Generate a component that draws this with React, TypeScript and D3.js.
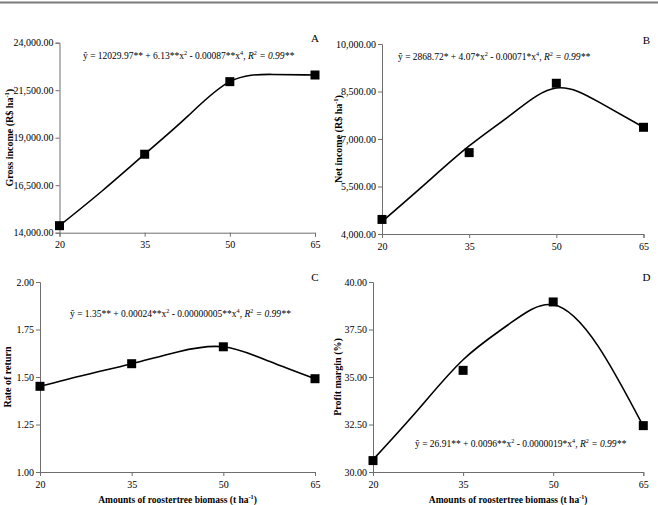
import React, { useEffect, useRef } from "react";
import * as d3 from "d3";

// observed points
const biomass = [20, 35, 50, 65];
const grossIncome = [14370, 18130, 21950, 22300];
const netIncome = [4460, 6570, 8760, 7370];
const rateOfReturn = [1.451, 1.57, 1.659, 1.491];
const profitMargin = [30.6, 35.35, 38.95, 32.44];

// fitted curves
const trendBiomass = [20, 27.5, 35, 42.5, 50, 57.5, 65];
const grossTrend = [14370, 16195, 18130, 20105, 21950, 22330, 22300];
const netTrend = [4390, 5590, 6780, 7810, 8611, 8147, 7370];
const rateTrend = [1.451, 1.512, 1.57, 1.632, 1.659, 1.583, 1.491];
const marginTrend = [30.65, 33.28, 35.91, 37.75, 38.8, 36.61, 32.41];

const xTicks = [20, 35, 50, 65];
const grossTicks = [14000, 16500, 19000, 21500, 24000];
const netTicks = [4000, 5500, 7000, 8500, 10000];
const rateTicks = [1, 1.25, 1.5, 1.75, 2];
const marginTicks = [30, 32.5, 35, 37.5, 40];

type Seg = { t: string; sup?: boolean; it?: boolean };

const eqA: Seg[] = [
  { t: "ŷ = 12029.97** + 6.13**x" }, { t: "2", sup: true }, { t: " - 0.00087**x" }, { t: "4", sup: true },
  { t: ", " }, { t: "R", it: true }, { t: "2", sup: true }, { t: " = 0.99**", it: true },
];
const eqB: Seg[] = [
  { t: "ŷ = 2868.72* + 4.07*x" }, { t: "2", sup: true }, { t: " - 0.00071*x" }, { t: "4", sup: true },
  { t: ", " }, { t: "R", it: true }, { t: "2", sup: true }, { t: " = 0.99**", it: true },
];
const eqC: Seg[] = [
  { t: "ŷ = 1.35** + 0.00024**x" }, { t: "2", sup: true }, { t: " - 0.00000005**x" }, { t: "4", sup: true },
  { t: ", " }, { t: "R", it: true }, { t: "2", sup: true }, { t: " = 0.99**", it: true },
];
const eqD: Seg[] = [
  { t: "ŷ = 26.91** + 0.0096**x" }, { t: "2", sup: true }, { t: " - 0.0000019*x" }, { t: "4", sup: true },
  { t: ", " }, { t: "R", it: true }, { t: "2", sup: true }, { t: " = 0.99**", it: true },
];

const haTitle = (s: string): Seg[] => [{ t: s + " (R$ ha" }, { t: "-1", sup: true }, { t: ")" }];
const xTitle: Seg[] = [{ t: "Amounts of roostertree biomass (t ha" }, { t: "-1", sup: true }, { t: ")" }];

const panels = [
  { label: "A", xr: [59.5, 315], yr: [232.7, 42.7], ticks: grossTicks, pts: grossIncome, trend: grossTrend,
    yTitle: haTitle("Gross income"), tx: 13, eq: eqA, ex: 83, ey: 58.5, lx: 315, ly: 42, xt: false },
  { label: "B", xr: [382, 643.5], yr: [234, 44], ticks: netTicks, pts: netIncome, trend: netTrend,
    yTitle: haTitle("Net income"), tx: 341.5, eq: eqB, ex: 398, ey: 60, lx: 646.5, ly: 44, xt: false },
  { label: "C", xr: [40, 315], yr: [472, 282], ticks: rateTicks, pts: rateOfReturn, trend: rateTrend,
    yTitle: [{ t: "Rate of return" }], tx: 10.5, eq: eqC, ex: 70, ey: 316.5, lx: 315, ly: 281, xt: true },
  { label: "D", xr: [373, 643.3], yr: [472, 282], ticks: marginTicks, pts: profitMargin, trend: marginTrend,
    yTitle: [{ t: "Profit margin (%)" }], tx: 341, eq: eqD, ex: 415, ey: 447, lx: 646.5, ly: 281, xt: true },
];

const FONT = "'Liberation Serif', 'Times New Roman', serif";

function addSegs(text: d3.Selection<SVGTextElement, unknown, null, undefined>, segs: Seg[], size: number) {
  let shifted = false;
  segs.forEach((s) => {
    const ts = text.append("tspan").text(s.t);
    if (s.it) ts.attr("font-style", "italic");
    if (s.sup) {
      ts.attr("font-size", size * 0.65).attr("dy", -size * 0.38);
      shifted = true;
    } else if (shifted) {
      ts.attr("dy", size * 0.38);
      shifted = false;
    }
  });
}

const App: React.FC = () => {
  const svgRef = useRef<SVGSVGElement | null>(null);

  useEffect(() => {
    const svg = d3.select(svgRef.current);
    svg.selectAll("*").remove();

    svg.append("rect").attr("x", 0).attr("y", 1.5).attr("width", 658).attr("height", 2).attr("fill", "#7a7a7a");

    panels.forEach((p) => {
      const x = d3.scaleLinear().domain([20, 65]).range(p.xr);
      const y = d3.scaleLinear().domain([p.ticks[0], p.ticks[p.ticks.length - 1]]).range(p.yr);
      const g = svg.append("g");

      const yAxis = g
        .append("g")
        .attr("transform", `translate(${p.xr[0]},0)`)
        .call(d3.axisLeft(y).tickValues(p.ticks).tickFormat(d3.format(",.2f")).tickSizeOuter(0).tickSize(4).tickPadding(2));
      const xAxis = g
        .append("g")
        .attr("transform", `translate(0,${p.yr[0]})`)
        .call(d3.axisBottom(x).tickValues(xTicks).tickFormat(d3.format("d")).tickSizeOuter(0).tickSize(4).tickPadding(4.5));
      [yAxis, xAxis].forEach((a) => {
        a.selectAll("path,line").attr("stroke", "#6e6e6e");
        a.selectAll("text").attr("font-family", FONT).attr("font-size", 10).attr("fill", "#000");
      });

      const line = d3
        .line<number>()
        .x((_, i) => x(trendBiomass[i]))
        .y((d) => y(d))
        .curve(d3.curveNatural);
      g.append("path").attr("d", line(p.trend)).attr("fill", "none").attr("stroke", "#000").attr("stroke-width", 1.6);

      g.selectAll("rect.pt")
        .data(p.pts)
        .enter()
        .append("rect")
        .attr("class", "pt")
        .attr("x", (_, i) => x(biomass[i]) - 4.5)
        .attr("y", (d) => y(d) - 4.5)
        .attr("width", 9)
        .attr("height", 9)
        .attr("fill", "#000");

      // y title
      const yt = g
        .append("text")
        .attr("transform", `translate(${p.tx},${(p.yr[0] + p.yr[1]) / 2}) rotate(-90)`)
        .attr("text-anchor", "middle")
        .attr("font-family", FONT)
        .attr("font-weight", "bold")
        .attr("font-size", 10);
      addSegs(yt, p.yTitle, 10);

      if (p.xt) {
        const xtt = g
          .append("text")
          .attr("x", (p.xr[0] + p.xr[1]) / 2)
          .attr("y", 502.5)
          .attr("text-anchor", "middle")
          .attr("font-family", FONT)
          .attr("font-weight", "bold")
          .attr("font-size", 9.5);
        addSegs(xtt, xTitle, 9.5);
      }

      const eq = g.append("text").attr("x", p.ex).attr("y", p.ey).attr("font-family", FONT).attr("font-size", 9.5);
      addSegs(eq, p.eq, 9.5);

      g.append("text")
        .attr("x", p.lx)
        .attr("y", p.ly)
        .attr("text-anchor", "middle")
        .attr("font-family", FONT)
        .attr("font-size", 11)
        .text(p.label);
    });
  }, []);

  return (
    <svg
      ref={svgRef}
      width={658}
      height={505}
      style={{ position: "absolute", left: 0, top: 0, background: "#fff" }}
    ></svg>
  );
};

export default App;
